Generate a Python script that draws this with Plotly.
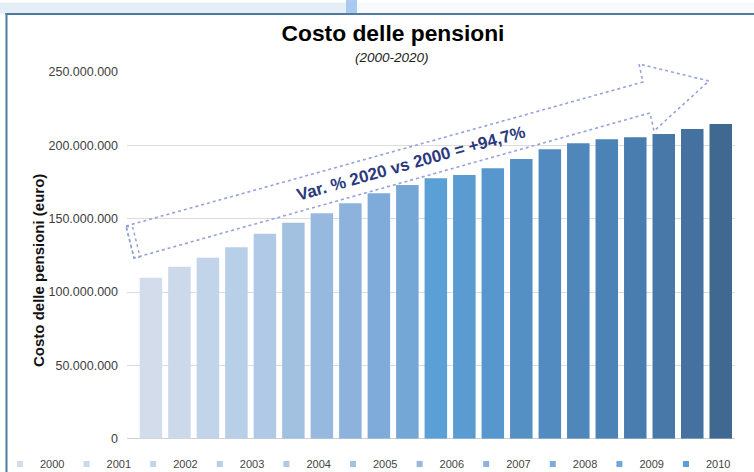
import plotly.graph_objects as go

# ---------------- data ----------------
years = [str(y) for y in range(2000, 2021)]
costs = [109.8e6, 117.3e6, 123.4e6, 130.5e6, 139.8e6, 147.3e6, 153.7e6,
         160.5e6, 167.3e6, 173.0e6, 177.6e6, 179.8e6, 184.4e6, 190.7e6,
         197.3e6, 201.4e6, 204.1e6, 205.5e6, 207.8e6, 211.2e6, 214.6e6]
colors = ["#d3dcea", "#cbd9ea", "#c2d4e9", "#b8cfe8", "#afc9e6", "#a2c0e0",
          "#97b9df", "#8db3dc", "#7fabdb", "#74a6d6", "#5a9fd6", "#5a9bd2",
          "#5797cd", "#5590c4", "#528bbf", "#4f87bb", "#4c83b6", "#4a7daf",
          "#4778a8", "#44719f", "#3f6990"]
legend_years = years[:11]
y_ticks = [0, 50e6, 100e6, 150e6, 200e6, 250e6]

title_text = "Costo delle pensioni"
subtitle_text = "(2000-2020)"
ytitle_text = "Costo delle pensioni (euro)"
var_text = "Var. % 2020 vs 2000 = +94,7%"

# ---------------- helpers (page pixels -> paper) ----------------
W, H = 754, 472
def px(x):
    return x / W
def py(y):
    return 1 - y / H

FONT = "Liberation Sans, Arial, sans-serif"

fig = go.Figure()

for yr, val, col in zip(years, costs, colors):
    fig.add_trace(go.Bar(x=[yr], y=[val], marker=dict(color=col, line=dict(width=0)),
                         width=0.79, name=yr, legendgroup=yr, showlegend=False,
                         hovertemplate="%{x}: %{y:,}<extra></extra>"))

# legend proxies (small square symbols like the original)
for yr, col in zip(years, colors):
    if yr in legend_years:
        fig.add_trace(go.Scatter(x=[None], y=[None], mode="markers", name=yr,
                                 legendgroup=yr,
                                 marker=dict(symbol="square", size=6, color=col)))

# ---------------- decorations ----------------
shapes = []
# page header band
shapes.append(dict(type="rect", xref="paper", yref="paper", x0=px(0), x1=px(346),
                   y0=py(13.5), y1=py(2.5), fillcolor="#e5edf7", line=dict(width=0), layer="below"))
shapes.append(dict(type="rect", xref="paper", yref="paper", x0=px(346), x1=px(357),
                   y0=py(13.5), y1=py(0), fillcolor="#a9c9ee", line=dict(width=0), layer="below"))
shapes.append(dict(type="rect", xref="paper", yref="paper", x0=px(357), x1=px(754),
                   y0=py(13.5), y1=py(2.5), fillcolor="#f7fafd", line=dict(width=0), layer="below"))
# frame
shapes.append(dict(type="line", xref="paper", yref="paper", x0=px(5.5), x1=px(754),
                   y0=py(14), y1=py(14), line=dict(color="#4d7c9f", width=2)))
shapes.append(dict(type="line", xref="paper", yref="paper", x0=px(6.5), x1=px(6.5),
                   y0=py(13), y1=py(472), line=dict(color="#4d7c9f", width=2)))

# dotted arrow outline
arrow_pts = [(126, 226), (643, 82), (639, 64), (709, 81), (654, 131), (650, 113), (134, 258)]
path = "M " + " L ".join(f"{px(a):.5f},{py(b):.5f}" for a, b in arrow_pts) + " Z"
shapes.append(dict(type="path", xref="paper", yref="paper", path=path,
                   line=dict(color="#95a3d8", width=1.6, dash="dot")))
tail_pts = [(126, 226), (133, 228), (140, 257), (134, 258)]
path2 = "M " + " L ".join(f"{px(a):.5f},{py(b):.5f}" for a, b in tail_pts) + " Z"
shapes.append(dict(type="path", xref="paper", yref="paper", path=path2,
                   line=dict(color="#8f9fd6", width=1.4, dash="dot")))

annotations = [
    dict(text=f"<i>{subtitle_text}</i>", xref="paper", yref="paper", x=px(392), y=py(57),
         showarrow=False, font=dict(family=FONT, size=13.5, color="#222222"),
         xanchor="center", yanchor="middle"),
    dict(text=f"<b>{ytitle_text}</b>", xref="paper", yref="paper", x=px(38), y=py(271),
         showarrow=False, textangle=-90, font=dict(family=FONT, size=15, color="#111111"),
         xanchor="center", yanchor="middle"),
    dict(text=f"<b>{var_text}</b>", xref="paper", yref="paper", x=px(411), y=py(164),
         showarrow=False, textangle=-15.7, font=dict(family=FONT, size=17, color="#2b3a7c"),
         xanchor="center", yanchor="middle"),
]

fig.update_layout(
    width=W, height=H,
    margin=dict(l=0, r=0, t=0, b=0, autoexpand=False),
    paper_bgcolor="white", plot_bgcolor="white",
    separators=",.",
    barmode="overlay",
    font=dict(family=FONT, color="#404040"),
    title=dict(text=f"<b>{title_text}</b>", x=px(393), y=py(33), xanchor="center",
               yanchor="middle", xref="paper", yref="paper",
               font=dict(family=FONT, size=22.8, color="#000000")),
    xaxis=dict(domain=[px(127), px(735)], type="category", range=[-0.84, 20.5],
               showticklabels=False, showgrid=False, showline=False, zeroline=False,
               ticks=""),
    yaxis=dict(domain=[py(438.7), py(72)], range=[0, 250e6], tickvals=y_ticks,
               tickformat=",d", showgrid=True, gridcolor="#dcdcdc", gridwidth=1,
               zeroline=True, zerolinecolor="#d0d0d0", zerolinewidth=1,
               showline=False, ticks="", ticklabelstandoff=8,
               tickfont=dict(family=FONT, size=12.5, color="#404040")),
    legend=dict(orientation="h", x=px(0), xanchor="left", y=py(464), yanchor="middle",
                entrywidth=21.6, entrywidthmode="pixels", itemwidth=30,
                font=dict(family=FONT, size=11, color="#444444"),
                bgcolor="rgba(0,0,0,0)", borderwidth=0),
    shapes=shapes,
    annotations=annotations,
    showlegend=True,
)

fig.write_html("out.html")
